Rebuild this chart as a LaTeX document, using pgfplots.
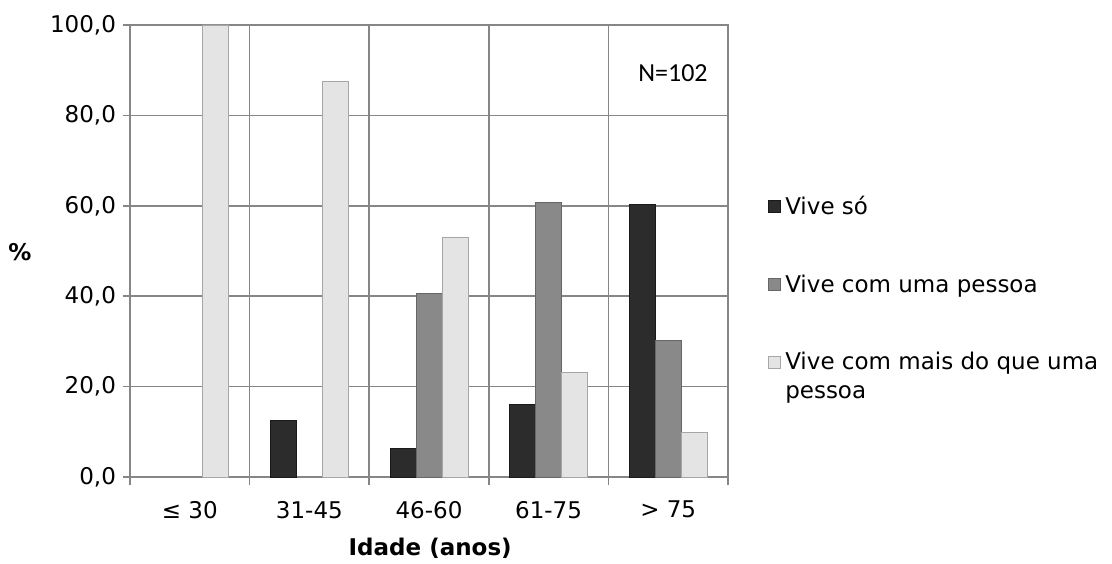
\documentclass[border=0pt]{standalone}
\usepackage{pgfplots}
\pgfplotsset{compat=1.18}
\usepackage{fontspec}
\setmainfont{DejaVu Sans}
\newfontfamily\calibri{Carlito}
\definecolor{gridc}{HTML}{868686}
\definecolor{cso}{HTML}{2C2C2C}
\definecolor{cuma}{HTML}{898989}
\definecolor{cmais}{HTML}{E4E4E4}
\newcommand{\lbl}{\fontsize{11.5}{14}\selectfont}
\begin{document}
\begin{tikzpicture}
\useasboundingbox (-65pt,-43pt) rectangle (491pt,238.5pt);
\begin{axis}[
	at={(0,0)}, anchor=south west,
	scale only axis,
	width=299pt, height=226pt,
	ybar=0pt,
	bar width=13pt,
	xmin=-0.5, xmax=4.5,
	ymin=0, ymax=100,
	xtick={0,...,4},
	xticklabels={≤ 30, 31-45, 46-60, 61-75, > 75},
	minor xtick={-0.5,0.5,...,4.5},
	ytick={0,20,...,100},
	xmajorgrids=false, xminorgrids=true, ymajorgrids=true,
	grid style={gridc, line width=0.8pt},
	minor grid style={gridc, line width=0.8pt},
	axis line style={gridc, line width=0.8pt},
	tick align=outside, tick pos=left,
	major tick length=3.5pt, minor tick length=4pt,
	major x tick style={draw=none},
	tick style={gridc, line width=0.8pt},
	tick label style={font=\lbl},
	x tick label style={yshift=-5pt},
	y tick label style={/pgf/number format/.cd, fixed, fixed zerofill, precision=1, use comma, assume math mode=true},
	xlabel={\textbf{Idade (anos)}},
	xlabel style={font=\lbl, at={(axis description cs:0.502,-0.157)}, anchor=center},
	ylabel={\textbf{\%}},
	ylabel style={font=\lbl, rotate=-90, at={(axis description cs:-0.184,0.498)}, anchor=center},
	legend cell align=left,
	legend image code/.code={\draw[#1, line width=0.4pt] (0pt,-3pt) rectangle (6pt,3pt);},
	legend style={draw=none, fill=none, font=\lbl, at={(rel axis cs:1.067,0.631)}, anchor=north west,
		row sep=24.5pt, inner sep=0pt,
		/tikz/every even column/.append style={column sep=0pt}},
]
% zero values (<= 30: Vive so, uma pessoa; 31-45: uma pessoa) draw no bar
\addplot[fill=cso, draw=black!90] coordinates {(1,12.5) (2,6.3) (3,16.1) (4,60.3)};
\addplot[fill=cuma, draw=black!60] coordinates {(2,40.6) (3,60.7) (4,30.2)};
\addplot[fill=cmais, draw=black!35] coordinates {(0,100) (1,87.5) (2,53.1) (3,23.2) (4,9.9)};
\legend{Vive só, Vive com uma pessoa, {\rlap{\raisebox{-14.5pt}[0pt][0pt]{pessoa}}Vive com mais do que uma}}
\node[font=\calibri\fontsize{13}{15}\selectfont] at (axis cs:4.04,89.4) {N=102};
\end{axis}
\end{tikzpicture}
\end{document}
